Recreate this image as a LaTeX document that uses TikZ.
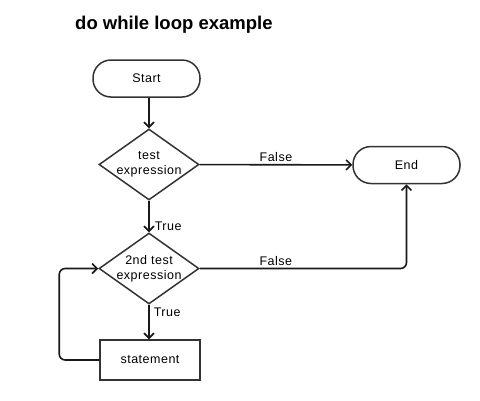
\documentclass[tikz,border=0pt]{standalone}
\usepackage{fontspec}
\setmainfont{Liberation Sans}
\usetikzlibrary{shapes.geometric,arrows.meta}
\begin{document}
\begin{tikzpicture}[x=1pt,y=-1pt,
  txt/.style={font=\fontsize{12.5}{15}\selectfont\addfontfeatures{LetterSpace=4}},
  term/.style={draw=black!80,line width=1.5pt,rounded corners=18pt,minimum width=107pt,minimum height=37pt,inner sep=0pt,txt},
  dec/.style={draw=black!80,line width=1.5pt,diamond,minimum width=100pt,minimum height=71pt,inner sep=0pt},
  proc/.style={draw=black!80,line width=1.5pt,minimum width=100pt,minimum height=40pt,inner sep=0pt,txt},
  lbl/.style={txt,align=center,inner sep=0pt},
  arr/.style={draw=black!90,line width=1.6pt,-{Straight Barb[length=5pt,width=10pt,line width=1.6pt]}},
]
\fill[white] (0,0) rectangle (480,400);
\useasboundingbox (0,0) rectangle (480,400);
\node[anchor=base west,font=\fontsize{18.5}{22}\selectfont\bfseries,inner sep=0pt] (title) at (75,29.5) {do while loop example};
\node[term] (start) at (146.5,78.5) {Start};
\node[dec] (d1) at (149,164.5) {};
\node[lbl] (d1t) at (d1) {test\\expression};
\node[term] (end) at (406.5,165) {End};
\node[dec] (d2) at (149,268.5) {};
\node[lbl] (d2t) at (d2) {2nd test\\expression};
\node[proc] (stmt) at (150,360) {statement};
\draw[arr] (start.south -| d1.north) -- (d1.north);
\draw[arr] (d1) -- node[txt,above,inner sep=2pt] (f1) {False} (end);
\draw[arr] (d1) -- node[txt,right,pos=0.8,inner sep=5pt] (t1) {True} (d2);
\draw[arr,rounded corners=6pt] (d2.east) -| node[txt,above,pos=0.184,inner sep=2pt] (f2) {False} (end.south);
\draw[arr] (d2) -- node[txt,right,pos=0.22,inner sep=4pt] (t2) {True} (stmt.north -| d2.south);
\draw[arr,rounded corners=6pt] (stmt.west) -- ++(-40,0) |- (d2.west);
\end{tikzpicture}
\end{document}
